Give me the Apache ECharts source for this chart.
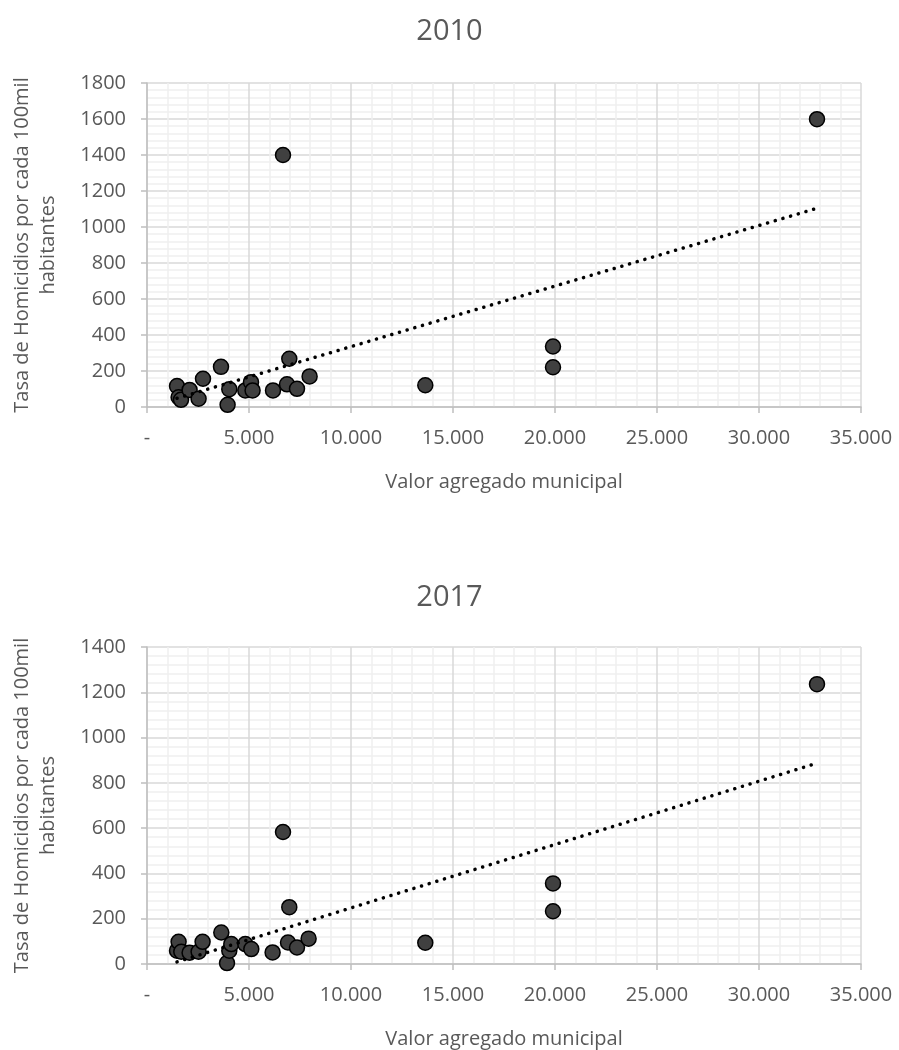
<!DOCTYPE html>
<html>
<head>
<meta charset="utf-8">
<script src="https://cdn.jsdelivr.net/npm/echarts@6/dist/echarts.min.js"></script>
<style>
html,body{margin:0;padding:0;background:#fff;}
#chart{width:899px;height:1050px;}
</style>
</head>
<body>
<div id="chart"></div>
<script>
// ---- Data ----
const titles = ['2010', '2017'];
const xAxisName = 'Valor agregado municipal';
const yAxisName = 'Tasa de Homicidios por cada 100mil\nhabitantes';
const xTickLabels = ['-', '5.000', '10.000', '15.000', '20.000', '25.000', '30.000', '35.000'];

const x2010 = [1471, 1549, 1667, 2088, 2529, 2745, 3627, 3951, 4034, 4819, 5098, 5176, 6176, 6667, 6863, 6975, 7353, 7971, 13642, 19902, 19902, 32843];
const y2010 = [116, 54, 40, 95, 46, 157, 223, 12, 99, 92, 138, 92, 92, 1400, 126, 268, 101, 170, 121, 336, 221, 1599];

const x2017 = [1471, 1549, 1681, 2088, 2529, 2725, 3642, 3922, 4034, 4132, 4819, 5113, 6157, 6912, 6975, 7353, 7922, 6667, 13642, 19902, 19902, 32843];
const y2017 = [59, 98, 54, 50, 54, 98, 139, 4, 59, 88, 88, 66, 51, 95, 251, 73, 112, 583, 94, 356, 233, 1236];

// ---- Helpers ----
function pairs(xs, ys) { return xs.map((x, i) => [x, ys[i]]); }
function trend(xs, ys) {
  const n = xs.length;
  const mx = xs.reduce((a, b) => a + b, 0) / n;
  const my = ys.reduce((a, b) => a + b, 0) / n;
  let sxy = 0, sxx = 0;
  for (let i = 0; i < n; i++) { sxy += (xs[i] - mx) * (ys[i] - my); sxx += (xs[i] - mx) * (xs[i] - mx); }
  const b = sxy / sxx, a = my - b * mx;
  const x0 = Math.min(...xs), x1 = Math.max(...xs);
  return [[x0, a + b * x0], [x1, a + b * x1]];
}

const FONT = 'Open Sans';
const TXT = '#595959';

function xAxisCfg(gi) {
  return {
    gridIndex: gi, type: 'value', min: 0, max: 35000, interval: 5000,
    name: xAxisName, nameLocation: 'middle', nameGap: 65,
    nameTextStyle: { fontFamily: FONT, fontSize: 20, color: TXT },
    axisLine: { show: true, onZero: false, lineStyle: { color: '#bfbfbf', width: 1.5 } },
    axisTick: { show: true, length: 6, lineStyle: { color: '#bfbfbf', width: 1.5 } },
    axisLabel: { margin: 21, fontFamily: FONT, fontSize: 20, color: TXT,
      formatter: v => xTickLabels[Math.round(v / 5000)] },
    splitLine: { show: true, lineStyle: { color: '#d9d9d9', width: 1.5 } },
    minorTick: { show: false, splitNumber: 5 },
    minorSplitLine: { show: true, lineStyle: { color: '#efefef', width: 1.5 } }
  };
}
function yAxisCfg(gi, max) {
  return {
    gridIndex: gi, type: 'value', min: 0, max: max, interval: 200,
    name: yAxisName, nameLocation: 'middle', nameGap: 86, nameRotate: 90,
    nameTextStyle: { fontFamily: FONT, fontSize: 20, color: TXT, lineHeight: 26 },
    axisLine: { show: true, lineStyle: { color: '#bfbfbf', width: 1.5 } },
    axisTick: { show: true, length: 6, lineStyle: { color: '#bfbfbf', width: 1.5 } },
    axisLabel: { margin: 21, fontFamily: FONT, fontSize: 20, color: TXT,
      formatter: v => String(v) },
    splitLine: { show: true, lineStyle: { color: '#d9d9d9', width: 1.5 } },
    minorTick: { show: false, splitNumber: 5 },
    minorSplitLine: { show: true, lineStyle: { color: '#efefef', width: 1.5 } }
  };
}
function scatterCfg(i, data) {
  return {
    type: 'scatter', xAxisIndex: i, yAxisIndex: i, data: data,
    symbol: 'circle', symbolSize: 15, z: 2,
    itemStyle: { color: '#404040', borderColor: '#000', borderWidth: 1.5, opacity: 1 }
  };
}
function trendCfg(i, data) {
  return {
    type: 'line', xAxisIndex: i, yAxisIndex: i, data: data,
    symbol: 'none', showSymbol: false, z: 3, silent: true,
    lineStyle: { color: '#000', width: 3.5, type: [0.1, 7.9], cap: 'round' }
  };
}

const chart = echarts.init(document.getElementById('chart'), null, { renderer: 'canvas' });
chart.setOption({
  animation: false,
  backgroundColor: '#fff',
  title: [
    { text: titles[0], left: 'center', top: 12, textStyle: { fontFamily: FONT, fontSize: 29, fontWeight: 'normal', color: TXT } },
    { text: titles[1], left: 'center', top: 578, textStyle: { fontFamily: FONT, fontSize: 29, fontWeight: 'normal', color: TXT } }
  ],
  grid: [
    { left: 147, right: 38, top: 83, height: 324 },
    { left: 147, right: 38, top: 647, height: 320 }
  ],
  xAxis: [xAxisCfg(0), xAxisCfg(1)],
  yAxis: [yAxisCfg(0, 1800), yAxisCfg(1, 1400)],
  series: [
    scatterCfg(0, pairs(x2010, y2010)),
    trendCfg(0, trend(x2010, y2010)),
    scatterCfg(1, pairs(x2017, y2017)),
    trendCfg(1, trend(x2017, y2017))
  ]
});
</script>
</body>
</html>
